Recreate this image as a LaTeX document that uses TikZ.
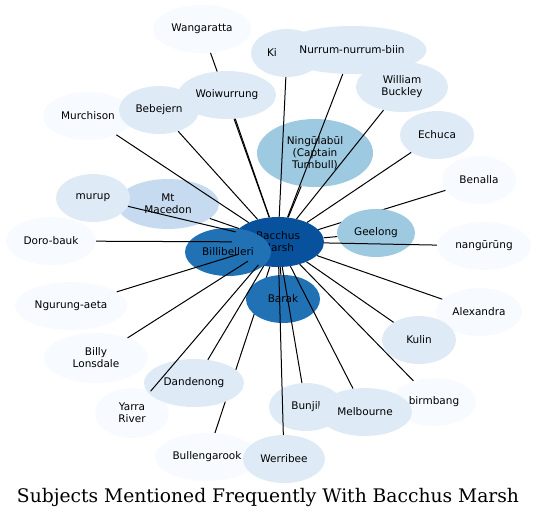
\documentclass[tikz,border=0pt]{standalone}
\usepackage{fontspec}
\usepackage{xcolor}
\usetikzlibrary{shapes.geometric}
\newfontfamily\topicfont{DejaVu Sans}
\newfontfamily\captionfont{DejaVu Serif}
\definecolor{Frost}{HTML}{F7FBFF}
\definecolor{Ice}{HTML}{DEEBF7}
\definecolor{Sky}{HTML}{C6DBEF}
\definecolor{Lagoon}{HTML}{9ECAE1}
\definecolor{Cobalt}{HTML}{2171B5}
\definecolor{Navy}{HTML}{08519C}
\tikzset{
    every node/.style={font=\topicfont\fontsize{10.5}{12}\selectfont},
    topic/.style={
        ellipse, fill=#1, draw=none,
        inner sep=0pt, minimum height=48pt,
        align=center, text=black
    },
    topic/.default=Ice,
    link/.style={
        draw=black, line width=1pt
    },
}

\begin{document}
\begin{tikzpicture}[x=1pt, y=-1pt]
    \useasboundingbox (0,0) rectangle (537,520);

    % Hub and the links that run under other topics
    \node[topic=Navy, minimum width=92pt, minimum height=50pt] (bm) at (278,242) {Bacchus\\Marsh};
    \node[topic=Frost, minimum width=98pt] (wangaratta) at (202,29) {Wangaratta};
    \node[topic=Frost, minimum width=74pt] (benalla) at (479,180) {Benalla};
    \node[topic=Frost, minimum width=104pt] (bullengarook) at (207,457) {Bullengarook};
    \draw[link] (bm) -- (wangaratta);
    \draw[link] (bm) -- (benalla);
    \draw[link] (bm) -- (bullengarook);

    % Topics
    \node[topic=Frost, minimum width=90pt] (murchison) at (88,116) {Murchison};
    \node[topic, minimum width=80pt] (bebejern) at (159,110) {Bebejern};
    \node[topic, minimum width=98pt] (woiwurrung) at (227,95) {Woiwurrung};
    \node[topic, minimum width=72pt, label={[xshift=-15pt]center:Ki}] (ki) at (287,53) {};
    \node[topic, minimum width=142pt] (nurrum) at (352,50) {Nurrum-nurrum-biin};
    \node[topic, minimum width=92pt, minimum height=50pt] (buckley) at (402,87) {William\\Buckley};
    \node[topic=Lagoon, minimum width=116pt, minimum height=68pt] (ningulabul) at (315,153) {Ningūlabūl\\(Captain\\Turnbull)};
    \node[topic, minimum width=74pt] (echuca) at (437,135) {Echuca};
    \node[topic=Sky, minimum width=102pt, minimum height=50pt] (macedon) at (168,204) {Mt\\Macedon};
    \node[topic, minimum width=74pt] (murup) at (93,198) {murup};
    \node[topic=Frost, minimum width=90pt] (dorobauk) at (51,241) {Doro-bauk};
    \node[topic=Cobalt, minimum width=86pt] (billibelleri) at (228,252) {Billibelleri};
    \node[topic=Lagoon, minimum width=78pt] (geelong) at (376,233) {Geelong};
    \node[topic=Frost, minimum width=94pt] (nangurung) at (484,246) {nangūrūng};
    \node[topic=Frost, minimum width=112pt] (ngurung) at (71,306) {Ngurung-aeta};
    \node[topic=Cobalt, minimum width=74pt] (barak) at (283,299) {Barak};
    \node[topic=Frost, minimum width=86pt] (alexandra) at (479,312) {Alexandra};
    \node[topic, minimum width=74pt] (kulin) at (419,340) {Kulin};
    \node[topic=Frost, minimum width=104pt, minimum height=50pt] (lonsdale) at (96,358) {Billy\\Lonsdale};
    \node[topic=Frost, minimum width=74pt, minimum height=50pt] (yarra) at (132,413) {Yarra\\River};
    \node[topic, minimum width=100pt] (dandenong) at (194,383) {Dandenong};
    \node[topic, minimum width=74pt] (bunjil) at (306,407) {Bunjil};
    \node[topic=Frost, minimum width=84pt] (birmbang) at (434,402) {birmbang};
    \node[topic, minimum width=94pt] (melbourne) at (365,412) {Melbourne};
    \node[topic, minimum width=82pt] (werribee) at (284,459) {Werribee};

    % Links
    \foreach \t in {murchison,bebejern,woiwurrung,ki,nurrum,buckley,ningulabul,echuca,
        macedon,murup,dorobauk,geelong,nangurung,ngurung,barak,alexandra,kulin,
        lonsdale,yarra,dandenong,bunjil,birmbang,melbourne,werribee}
        \draw[link] (bm) -- (\t);

    % Title
    \node[font=\captionfont\fontsize{18.7}{22}\selectfont] (title) at (268,497) {Subjects Mentioned Frequently With Bacchus Marsh};
\end{tikzpicture}
\end{document}
